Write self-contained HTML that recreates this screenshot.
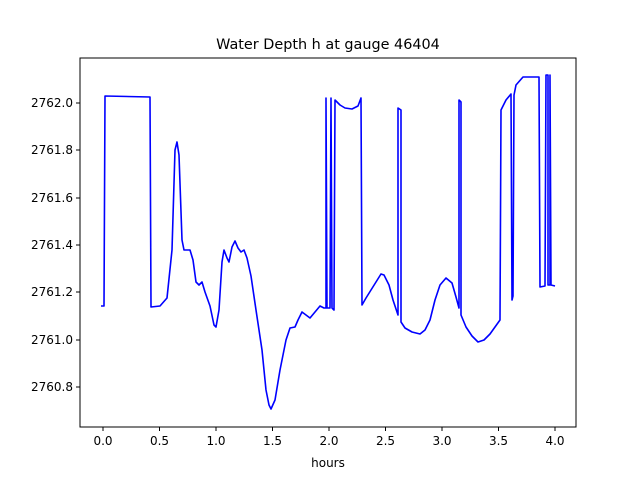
<!DOCTYPE html>
<html><head><style>body{margin:0;background:#fff}svg{display:block;font-family:"DejaVu Sans","Liberation Sans",sans-serif}</style></head><body>
<svg width="640" height="480" xmlns="http://www.w3.org/2000/svg">
<rect width="640" height="480" fill="#fff"/>
<text x="328" y="49" font-size="14.4" text-anchor="middle">Water Depth h at gauge 46404</text>
<polyline fill="none" stroke="#0000ff" stroke-width="1.6" stroke-linejoin="round" points="101,306 104,306 105,96 150,97 151,307 160,306 167,298 172,250 175,150 177,142 179,155 182,240 184,250 190,250 193,260 196,282 199,285 202,282 205,292 210,306 214,325 216,327 219,310 222,262 224,250 227,258 229,262 232,247 235,241 238,248 241,252 244,250 247,258 251,276 256,310 262,350 266,390 269,405 271,409 275,400 280,370 286,340 290,328 295,327 298,320 302,312 306,315 310,318 315,312 320,306 324,308 326,308 326,98 327,308 330,308 331,98 332,308 334,310 335,100 340,105 345,108 352,109 358,106 361,98 362,305 366,298 371,290 376,282 381,274 384,275 389,285 393,300 398,315 398,108 401,110 401,322 405,328 412,332 420,334 425,330 430,320 435,300 440,285 446,278 452,283 456,297 459,308 459,100 461,102 461,315 466,327 472,336 478,342 484,340 490,334 500,320 501,110 506,100 511,94 512,300 513,296 514,95 516,85 523,77 536,77 539,77 540,287 545,286 546,75 548,75 548,285 550,285 550,75 551,285 555,286"/>
<rect x="80" y="58" width="496" height="369" fill="none" stroke="#000" stroke-width="1"/>
<g stroke="#000" stroke-width="1">
<line x1="103" y1="427" x2="103" y2="431"/><line x1="159.5" y1="427" x2="159.5" y2="431"/><line x1="216" y1="427" x2="216" y2="431"/><line x1="272.5" y1="427" x2="272.5" y2="431"/><line x1="329" y1="427" x2="329" y2="431"/><line x1="385.5" y1="427" x2="385.5" y2="431"/><line x1="442" y1="427" x2="442" y2="431"/><line x1="498.5" y1="427" x2="498.5" y2="431"/><line x1="555" y1="427" x2="555" y2="431"/>
<line x1="76" y1="387" x2="80" y2="387"/><line x1="76" y1="340" x2="80" y2="340"/><line x1="76" y1="292" x2="80" y2="292"/><line x1="76" y1="245" x2="80" y2="245"/><line x1="76" y1="198" x2="80" y2="198"/><line x1="76" y1="150" x2="80" y2="150"/><line x1="76" y1="103" x2="80" y2="103"/>
</g>
<g font-size="12" text-anchor="middle">
<text x="103" y="445">0.0</text><text x="159.5" y="445">0.5</text><text x="216" y="445">1.0</text><text x="272.5" y="445">1.5</text><text x="329" y="445">2.0</text><text x="385.5" y="445">2.5</text><text x="442" y="445">3.0</text><text x="498.5" y="445">3.5</text><text x="555" y="445">4.0</text>
<text x="328" y="467">hours</text>
</g>
<g font-size="12" text-anchor="end">
<text x="73" y="391">2760.8</text><text x="73" y="344">2761.0</text><text x="73" y="296">2761.2</text><text x="73" y="249">2761.4</text><text x="73" y="202">2761.6</text><text x="73" y="154">2761.8</text><text x="73" y="107">2762.0</text>
</g>
</svg>
</body></html>
